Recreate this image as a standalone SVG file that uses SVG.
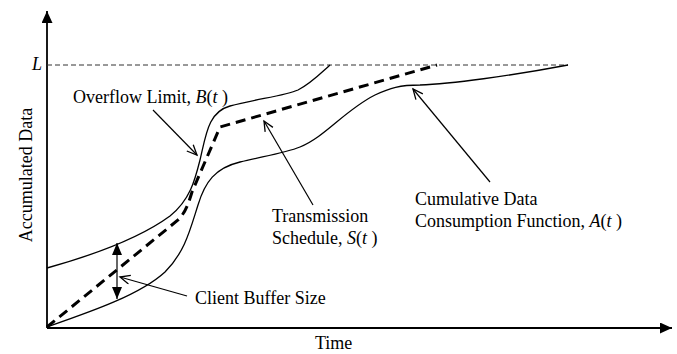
<svg xmlns="http://www.w3.org/2000/svg" width="677" height="354" viewBox="0 0 677 354">
<style>
  text { font-family: "Liberation Serif", "Times New Roman", serif; font-size: 18px; fill: #000; }
  .i { font-style: italic; }
  .curve { fill: none; stroke: #000; stroke-width: 1.3; }
  .sched { fill: none; stroke: #000; stroke-width: 3; stroke-dasharray: 10 6; }
  .limit { fill: none; stroke: #333; stroke-width: 1; stroke-dasharray: 5 3; }
  .axis { fill: none; stroke: #000; stroke-width: 1.8; }
  .lead { fill: none; stroke: #000; stroke-width: 1.2; }
</style>
<defs>
  <marker id="open" markerUnits="userSpaceOnUse" markerWidth="14" markerHeight="12" refX="11" refY="5" orient="auto">
    <path d="M1,0.5 L11,5 L1,9.5" fill="none" stroke="#000" stroke-width="1.3"/>
  </marker>
  <marker id="solid" markerUnits="userSpaceOnUse" markerWidth="14" markerHeight="12" refX="12" refY="5" orient="auto-start-reverse">
    <path d="M0,0 L12,5 L0,10 z" fill="#000"/>
  </marker>
  <marker id="axhead" markerUnits="userSpaceOnUse" markerWidth="14" markerHeight="12" refX="12" refY="5.5" orient="auto">
    <path d="M0,0 L12,5.5 L0,11 z" fill="#000"/>
  </marker>
</defs>

<g id="axes">
  <line class="axis" x1="47" y1="328" x2="47" y2="11" marker-end="url(#axhead)"/>
  <line class="axis" x1="47" y1="328" x2="672" y2="328" marker-end="url(#axhead)"/>
  <line class="limit" x1="47" y1="65" x2="568" y2="65"/>
  <text class="i" x="32" y="70">L</text>
  <text x="0" y="0" text-anchor="middle" transform="translate(32,175) rotate(-90)">Accumulated Data</text>
  <text x="315" y="349">Time</text>
</g>

<g id="overflow-limit">
  <path class="curve" d="M47,268 C90,256 140,238 170,216 C190,200 195,180 200,160 C206,135 208,112 230,106 C255,99 285,96 298,90 C310,84 320,74 330,65"/>
  <text x="73" y="103">Overflow Limit, <tspan class="i">B</tspan>(<tspan class="i">t</tspan> )</text>
</g>

<g id="consumption">
  <path class="curve" d="M47,327 C90,312 140,295 165,272 C185,252 190,230 198,205 C205,182 215,168 240,162 C265,156 285,153 300,147 C325,137 345,110 375,95 C390,88 400,85 420,85 C450,84 510,76 568,65"/>
  <text x="415" y="205">Cumulative Data</text>
  <text x="415" y="227">Consumption Function, <tspan class="i">A</tspan>(<tspan class="i">t</tspan> )</text>
</g>

<g id="schedule">
  <path class="sched" d="M47,327 L178,220 C185,213 188,205 192,192 L220,127 L437,65"/>
  <text x="272" y="222">Transmission</text>
  <text x="272" y="244">Schedule, <tspan class="i">S</tspan>(<tspan class="i">t</tspan> )</text>
</g>

<g id="buffer">
  <line class="lead" x1="117" y1="243" x2="117" y2="299" marker-start="url(#solid)" marker-end="url(#solid)"/>
  <text x="195" y="304">Client Buffer Size</text>
</g>

<g id="connectors">
  <line class="lead" x1="153" y1="110" x2="197" y2="155" marker-end="url(#open)"/>
  <line class="lead" x1="313" y1="205" x2="264" y2="121" marker-end="url(#open)"/>
  <line class="lead" x1="490" y1="182" x2="413" y2="89" marker-end="url(#open)"/>
  <line class="lead" x1="187" y1="296" x2="120" y2="277" marker-end="url(#open)"/>
</g>
</svg>
